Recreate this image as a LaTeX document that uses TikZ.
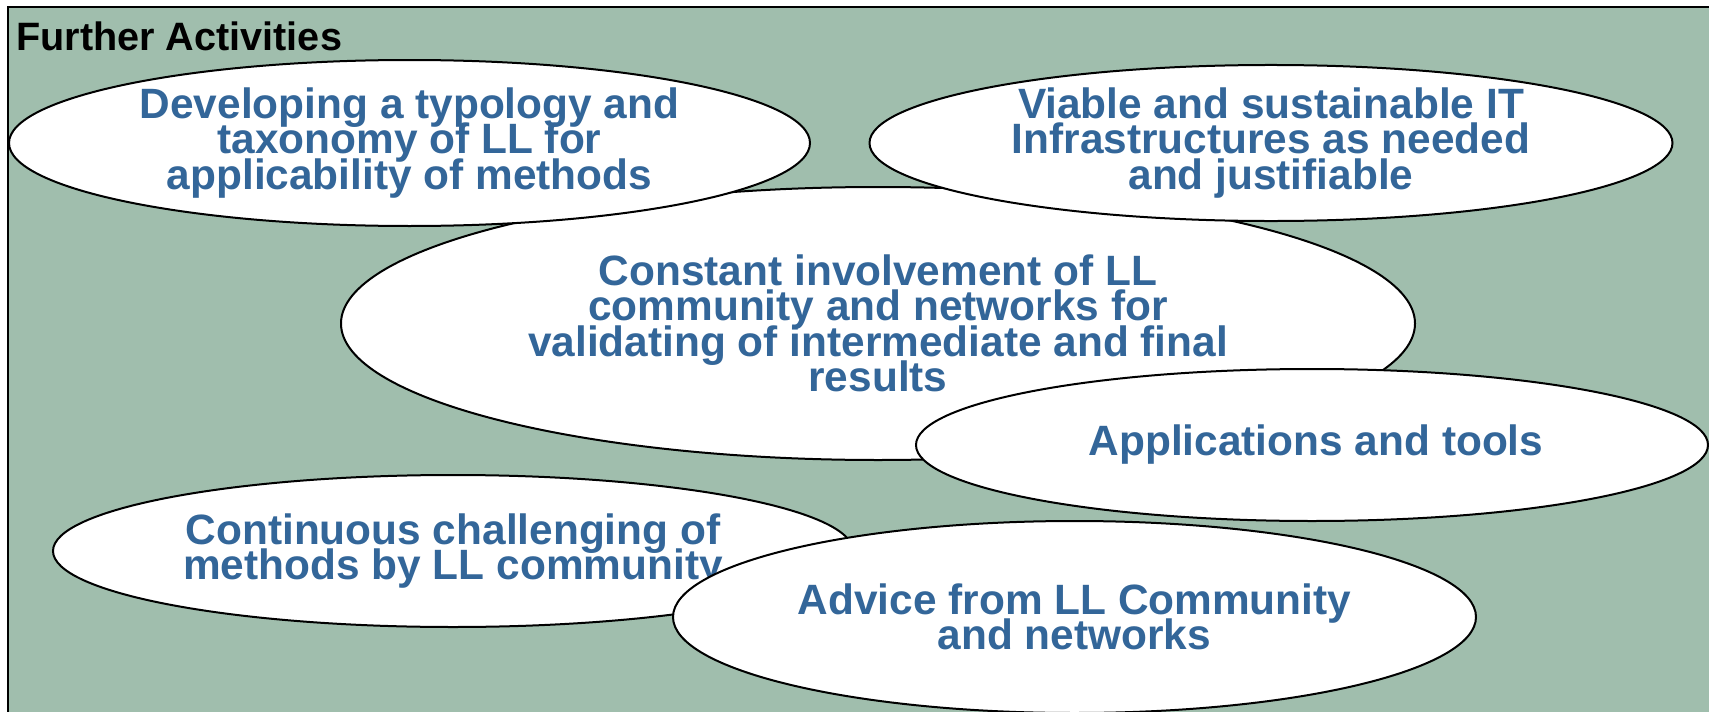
\documentclass[tikz,border=0pt]{standalone}
\usepackage{fontspec}
\setmainfont{Liberation Sans}
\usetikzlibrary{shapes.geometric}
\definecolor{bggreen}{RGB}{160,190,173}
\definecolor{txtblue}{RGB}{51,102,153}
\newcommand\bubblefont{\fontsize{21.2}{17.7}\selectfont\bfseries\lineskiplimit=-100pt\relax}
\begin{document}
\begin{tikzpicture}[x=0.5pt,y=-0.5pt,
  bubble/.style={ellipse, draw=black, line width=1pt, fill=white, inner sep=0pt,
    align=center, text=txtblue, font=\bubblefont},
  titletext/.style={anchor=west, inner sep=0pt, text=black,
    font=\fontsize{19.8}{22}\selectfont\bfseries}]
\useasboundingbox (0,0) rectangle (1709,712);
\clip (0,0) rectangle (1709,712);
\draw[fill=bggreen, line width=0.75pt] (8,7) rectangle (1740,740);
\node[titletext] (title) at (16,36) {Further Activities};
\node[bubble, minimum width=537pt, minimum height=136.5pt] (const) at (878,323.5)
  {Constant involvement of LL\\community and networks for\\validating of intermediate and final\\results};
\node[bubble, minimum width=400.5pt, minimum height=83pt] (dev) at (409.5,143)
  {Developing a typology and\\taxonomy of LL for\\applicability of methods};
\node[bubble, minimum width=401.5pt, minimum height=75pt] (viable) at (1271,143)
  {Viable and sustainable IT\\Infrastructures as needed\\and justifiable};
\node[bubble, minimum width=396pt, minimum height=76pt] (apps) at (1312,445)
  {\hspace*{4pt}Applications and tools};
\node[bubble, minimum width=400pt, minimum height=76pt] (cont) at (453,551)
  {Continuous challenging of\\methods by LL community};
\node[bubble, minimum width=401.5pt, minimum height=96pt] (advice) at (1074.5,617)
  {Advice from LL Community\\and networks};
\end{tikzpicture}
\end{document}
